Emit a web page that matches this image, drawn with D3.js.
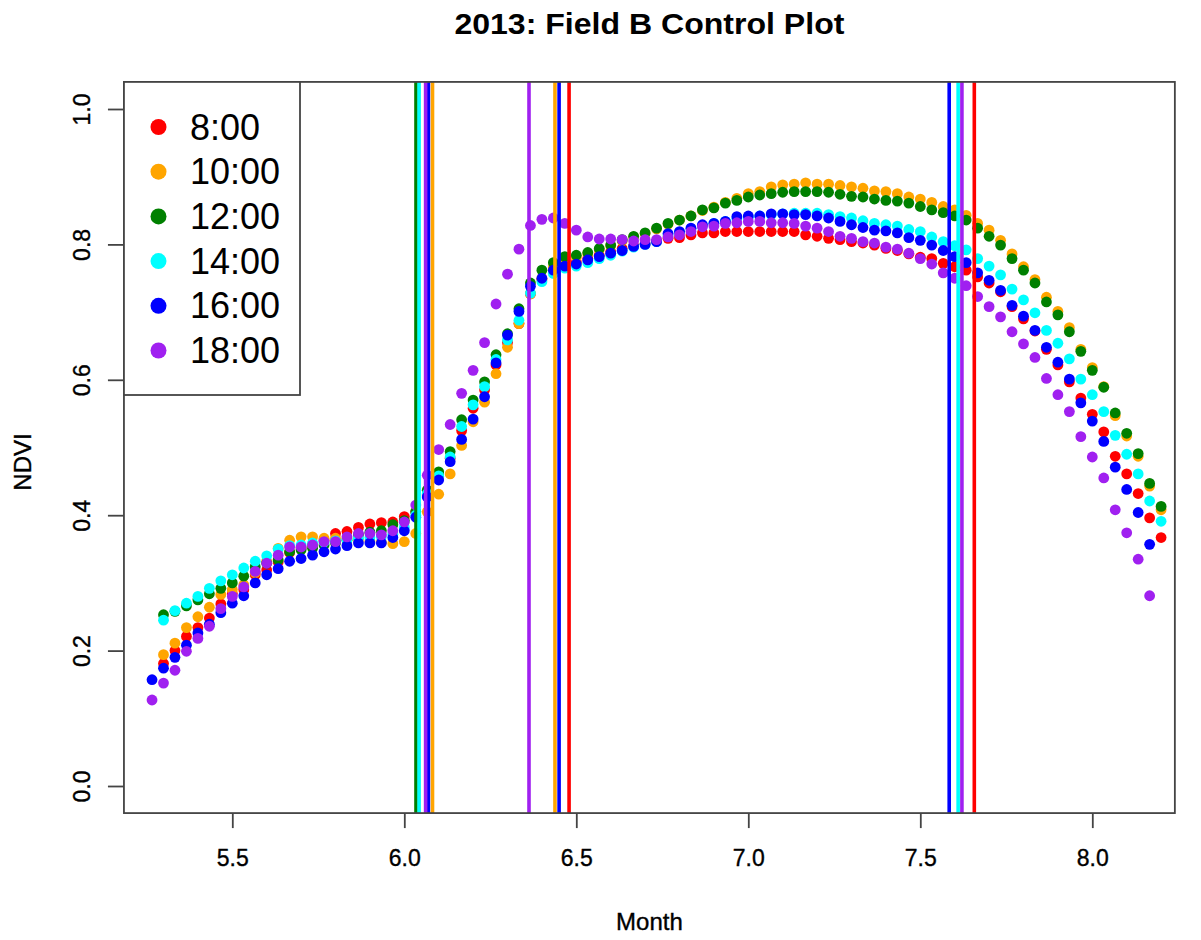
<!DOCTYPE html>
<html><head><meta charset="utf-8">
<script src="https://cdn.jsdelivr.net/npm/d3@7"></script>
<style>html,body{margin:0;padding:0;background:#fff;}svg{display:block;font-family:"Liberation Sans",Arial,sans-serif;}</style>
</head><body>
<svg id="chart" width="1201" height="940"></svg>
<script>
// ---- data ----
const seriesNames = ["8:00","10:00","12:00","14:00","16:00","18:00"];
const seriesColors = ["#FF0000","#FFA500","#008000","#00FFFF","#0000FF","#A020F0"];
// day-of-year ranges (x = day-of-year / 30, in months)
const daysEarly = d3.range(158, 246); // 16:00, 18:00
const daysLate  = d3.range(159, 247); // 8:00 - 14:00
const red = [0.181,0.200,0.221,0.234,0.248,0.269,0.284,0.290,0.312,0.319,
0.331,0.345,0.352,0.356,0.363,0.373,0.376,0.382,0.387,0.389,
0.390,0.398,0.405,0.430,0.458,0.484,0.525,0.558,0.585,0.622,
0.655,0.683,0.727,0.748,0.763,0.769,0.774,0.779,0.784,0.789,
0.794,0.798,0.801,0.805,0.809,0.810,0.814,0.817,0.817,0.819,
0.819,0.819,0.819,0.819,0.819,0.819,0.814,0.812,0.809,0.807,
0.804,0.802,0.799,0.794,0.791,0.786,0.781,0.779,0.772,0.767,
0.762,0.752,0.743,0.730,0.708,0.690,0.672,0.645,0.622,0.597,
0.573,0.549,0.523,0.487,0.461,0.432,0.396,0.367];
const orange = [0.194,0.211,0.234,0.250,0.264,0.283,0.290,0.297,0.315,0.332,
0.351,0.363,0.368,0.368,0.366,0.366,0.366,0.364,0.362,0.360,
0.358,0.361,0.373,0.405,0.431,0.461,0.503,0.538,0.567,0.609,
0.648,0.683,0.727,0.750,0.766,0.776,0.781,0.786,0.792,0.798,
0.805,0.811,0.816,0.823,0.830,0.836,0.842,0.850,0.855,0.862,
0.868,0.875,0.878,0.885,0.888,0.889,0.891,0.889,0.889,0.887,
0.885,0.883,0.879,0.878,0.875,0.870,0.867,0.862,0.856,0.851,
0.843,0.831,0.821,0.806,0.786,0.767,0.748,0.722,0.701,0.677,
0.645,0.618,0.590,0.547,0.517,0.487,0.443,0.408];
const green = [0.253,0.258,0.266,0.275,0.284,0.292,0.300,0.310,0.324,0.329,
0.334,0.346,0.349,0.351,0.356,0.359,0.363,0.371,0.375,0.377,
0.386,0.392,0.405,0.437,0.464,0.494,0.541,0.570,0.597,0.637,
0.668,0.705,0.743,0.762,0.773,0.782,0.784,0.788,0.794,0.799,
0.807,0.812,0.817,0.824,0.831,0.836,0.842,0.851,0.854,0.861,
0.865,0.870,0.873,0.875,0.877,0.878,0.878,0.878,0.877,0.874,
0.871,0.870,0.867,0.865,0.864,0.861,0.856,0.851,0.847,0.842,
0.836,0.824,0.812,0.799,0.779,0.762,0.743,0.715,0.696,0.671,
0.642,0.614,0.589,0.551,0.521,0.491,0.447,0.413];
const cyan = [0.245,0.259,0.270,0.280,0.292,0.303,0.312,0.322,0.332,0.340,
0.350,0.355,0.356,0.359,0.360,0.362,0.364,0.366,0.367,0.368,
0.372,0.382,0.400,0.432,0.458,0.486,0.531,0.563,0.590,0.630,
0.659,0.688,0.728,0.745,0.757,0.765,0.768,0.773,0.779,0.784,
0.790,0.796,0.800,0.804,0.814,0.818,0.823,0.828,0.831,0.834,
0.838,0.840,0.842,0.844,0.845,0.846,0.846,0.846,0.844,0.841,
0.839,0.835,0.831,0.829,0.827,0.822,0.819,0.811,0.804,0.798,
0.792,0.779,0.768,0.755,0.734,0.718,0.699,0.673,0.654,0.631,
0.601,0.578,0.553,0.518,0.490,0.461,0.421,0.391];
const blue = [0.157,0.174,0.190,0.208,0.226,0.239,0.256,0.270,0.281,0.300,
0.312,0.321,0.332,0.336,0.341,0.346,0.350,0.355,0.359,0.359,
0.359,0.367,0.377,0.397,0.427,0.452,0.479,0.512,0.542,0.575,
0.625,0.666,0.701,0.738,0.750,0.762,0.768,0.771,0.777,0.782,
0.787,0.791,0.797,0.800,0.804,0.816,0.819,0.824,0.829,0.831,
0.834,0.841,0.842,0.842,0.845,0.845,0.844,0.844,0.842,0.839,
0.834,0.829,0.825,0.821,0.820,0.817,0.810,0.806,0.799,0.791,
0.782,0.773,0.758,0.747,0.732,0.710,0.694,0.673,0.648,0.626,
0.601,0.566,0.539,0.509,0.471,0.438,0.404,0.357];
const purple = [0.127,0.152,0.171,0.199,0.218,0.236,0.262,0.280,0.294,0.317,
0.329,0.341,0.353,0.353,0.356,0.361,0.361,0.368,0.373,0.373,
0.371,0.377,0.390,0.415,0.459,0.497,0.534,0.580,0.614,0.655,
0.712,0.756,0.793,0.828,0.837,0.839,0.831,0.821,0.811,0.808,
0.808,0.807,0.805,0.807,0.807,0.811,0.814,0.819,0.826,0.827,
0.831,0.832,0.834,0.834,0.832,0.832,0.831,0.827,0.824,0.819,
0.812,0.809,0.804,0.802,0.796,0.793,0.787,0.779,0.771,0.758,
0.750,0.739,0.723,0.708,0.693,0.671,0.653,0.633,0.602,0.578,
0.553,0.516,0.486,0.455,0.408,0.374,0.335,0.281];
// vertical reference lines (months) per series
const vRed = [6.479, 7.657];
const vOrange = [6.082, 6.438];
const vGreen = [6.034];
const vCyan = [6.043, 7.610];
const vBlue = [6.070, 6.450, 7.584];
const vPurple = [6.062, 6.3625, 7.621];
const xTicks = [5.5, 6.0, 6.5, 7.0, 7.5, 8.0];
const yTicks = [0.0, 0.2, 0.4, 0.6, 0.8, 1.0];
const xlim = [5.185, 8.240];
const ylim = [-0.04, 1.04];

const seriesValues = [red, orange, green, cyan, blue, purple];
const seriesDays = [daysLate, daysLate, daysLate, daysLate, daysEarly, daysEarly];
const seriesV = [vRed, vOrange, vGreen, vCyan, vBlue, vPurple];

// ---- drawing ----
const svg = d3.select("#chart");
const x = d3.scaleLinear().domain([5.5, 8.0]).range([232.3, 1092.3]);
const y = d3.scaleLinear().domain([0, 1]).range([786, 109]);
const L = x(xlim[0]), R = x(xlim[1]), T = y(ylim[1]), B = y(ylim[0]);

svg.append("rect").attr("width",1201).attr("height",940).attr("fill","#fff");

// points
svg.append("clipPath").attr("id","pc").append("rect")
  .attr("x",L).attr("y",T).attr("width",R-L).attr("height",B-T);
const plot = svg.append("g").attr("clip-path","url(#pc)");
seriesValues.forEach((vals, si) => {
  const pts = vals.map((v,i) => ({mx: seriesDays[si][i]/30, v}));
  plot.append("g").selectAll("circle").data(pts).join("circle")
    .attr("cx", d => x(d.mx)).attr("cy", d => y(d.v)).attr("r", 5.4)
    .attr("fill", seriesColors[si]);
});
// vertical lines
seriesV.forEach((arr, si) => {
  plot.append("g").selectAll("line").data(arr).join("line")
    .attr("x1", d => x(d)).attr("x2", d => x(d))
    .attr("y1", T).attr("y2", B)
    .attr("stroke", seriesColors[si]).attr("stroke-width", 3.6);
});

// axes
const txtStyle = sel => sel.attr("fill","#000").attr("stroke","#000").attr("stroke-width",0.35)
  .attr("font-family","Liberation Sans, Arial, sans-serif");
const gx = svg.append("g").attr("transform",`translate(0,${B})`)
  .call(d3.axisBottom(x).tickValues(xTicks).tickFormat(d3.format(".1f")).tickSize(15).tickPadding(22).tickSizeOuter(0));
gx.select(".domain").remove();
gx.selectAll("line").attr("stroke","#444").attr("stroke-width",1.8);
gx.selectAll("text").attr("font-size",23).call(txtStyle);

const gy = svg.append("g").attr("transform",`translate(${L},0)`)
  .call(d3.axisLeft(y).tickValues(yTicks).tickFormat(d3.format(".1f")).tickSize(16).tickSizeOuter(0));
gy.select(".domain").remove();
gy.selectAll("line").attr("stroke","#444").attr("stroke-width",1.8);
gy.selectAll("text").attr("x",null).attr("dy",null)
  .attr("transform","translate(-42,0) rotate(-90)")
  .attr("text-anchor","middle").attr("dominant-baseline","central")
  .attr("font-size",23).call(txtStyle);

// box
svg.append("rect").attr("x",L).attr("y",T).attr("width",R-L).attr("height",B-T)
  .attr("fill","none").attr("stroke","#444").attr("stroke-width",1.8);

// titles
svg.append("text").attr("x",(L+R)/2).attr("y",23).attr("text-anchor","middle")
  .attr("dominant-baseline","central").attr("font-weight","bold").attr("font-size",30)
  .attr("textLength",390).attr("lengthAdjust","spacingAndGlyphs")
  .text("2013: Field B Control Plot");
svg.append("text").attr("x",(L+R)/2).attr("y",921).attr("text-anchor","middle")
  .attr("dominant-baseline","central").attr("font-size",24).call(txtStyle).text("Month");
svg.append("text").attr("transform","translate(22,462) rotate(-90)").attr("text-anchor","middle")
  .attr("dominant-baseline","central").attr("font-size",24).call(txtStyle).text("NDVI");

// legend
const lg = svg.append("g");
lg.append("rect").attr("x",L).attr("y",T).attr("width",300-L).attr("height",395-T)
  .attr("fill","#fff").attr("stroke","#444").attr("stroke-width",1.8);
seriesNames.forEach((n,i) => {
  const cy = 127 + i*44.7;
  lg.append("circle").attr("cx",158.5).attr("cy",cy).attr("r",8).attr("fill",seriesColors[i]);
  lg.append("text").attr("x",190).attr("y",cy).attr("dominant-baseline","central")
    .attr("font-size",36).attr("fill","#000").text(n);
});
</script>
</body></html>
